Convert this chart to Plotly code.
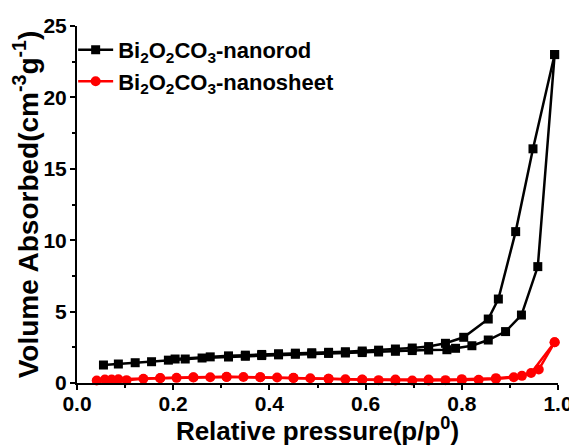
import plotly.graph_objects as go

# Bi2O2CO3-nanorod (black squares)
rod_ads_x = [0.055, 0.086, 0.121, 0.155, 0.19, 0.225, 0.26, 0.315, 0.35, 0.384, 0.419, 0.454,
             0.488, 0.523, 0.558, 0.593, 0.627, 0.662, 0.697, 0.731, 0.769, 0.787, 0.821, 0.855,
             0.891, 0.924, 0.958, 0.993]
rod_ads_y = [1.26, 1.33, 1.42, 1.49, 1.6, 1.68, 1.75, 1.82, 1.87, 1.92, 1.97, 2.01,
             2.04, 2.07, 2.1, 2.13, 2.17, 2.22, 2.27, 2.31, 2.33, 2.43, 2.61, 3.01,
             3.6, 4.76, 8.15, 23.0]
rod_des_x = [0.993, 0.948, 0.912, 0.876, 0.855, 0.804, 0.766, 0.731, 0.697, 0.662, 0.627,
             0.593, 0.558, 0.523, 0.488, 0.454, 0.419, 0.384, 0.35, 0.315, 0.277, 0.204]
rod_des_y = [23.0, 16.4, 10.6, 5.88, 4.48, 3.2, 2.78, 2.55, 2.45, 2.38, 2.3,
             2.24, 2.19, 2.15, 2.12, 2.09, 2.05, 2.0, 1.95, 1.9, 1.83, 1.68]

# Bi2O2CO3-nanosheet (red circles)
sheet_ads_x = [0.041, 0.072, 0.103, 0.138, 0.173, 0.207, 0.242, 0.277, 0.311, 0.346, 0.381,
               0.416, 0.45, 0.485, 0.523, 0.558, 0.593, 0.627, 0.662, 0.697, 0.731, 0.766,
               0.8, 0.835, 0.871, 0.908, 0.944, 0.993]
sheet_ads_y = [0.18, 0.25, 0.2, 0.3, 0.33, 0.36, 0.38, 0.4, 0.42, 0.42, 0.4,
               0.38, 0.35, 0.33, 0.3, 0.26, 0.22, 0.2, 0.18, 0.17, 0.18, 0.2,
               0.2, 0.22, 0.28, 0.4, 0.7, 2.85]
sheet_des_x = [0.993, 0.96, 0.925, 0.871, 0.8, 0.731, 0.662, 0.593, 0.523, 0.45, 0.381,
               0.311, 0.242, 0.173, 0.086, 0.058]
sheet_des_y = [2.85, 0.95, 0.5, 0.34, 0.27, 0.25, 0.24, 0.25, 0.3, 0.36, 0.41,
               0.43, 0.4, 0.35, 0.26, 0.24]

x_ticks = [0.0, 0.2, 0.4, 0.6, 0.8, 1.0]
x_ticklabels = ["0.0", "0.2", "0.4", "0.6", "0.8", "1.0"]
y_ticks = [0, 5, 10, 15, 20, 25]

FONT = "Liberation Sans"

fig = go.Figure()
rod_name = "Bi<sub>2</sub>O<sub>2</sub>CO<sub>3</sub>-nanorod"
sheet_name = "Bi<sub>2</sub>O<sub>2</sub>CO<sub>3</sub>-nanosheet"

rod_line = dict(color="black", width=2.5)
rod_marker = dict(symbol="square", size=9, color="black")
sheet_line = dict(color="red", width=2.5)
sheet_marker = dict(symbol="circle", size=10, color="red")

fig.add_trace(go.Scatter(x=rod_ads_x, y=rod_ads_y, mode="lines+markers", name=rod_name,
                         legendgroup="rod", showlegend=True, line=rod_line, marker=rod_marker,
                         cliponaxis=False))
fig.add_trace(go.Scatter(x=rod_des_x, y=rod_des_y, mode="lines+markers", name=rod_name,
                         legendgroup="rod", showlegend=False, line=rod_line, marker=rod_marker,
                         cliponaxis=False))
fig.add_trace(go.Scatter(x=sheet_ads_x, y=sheet_ads_y, mode="lines+markers", name=sheet_name,
                         legendgroup="sheet", showlegend=True, line=sheet_line, marker=sheet_marker,
                         cliponaxis=False))
fig.add_trace(go.Scatter(x=sheet_des_x, y=sheet_des_y, mode="lines+markers", name=sheet_name,
                         legendgroup="sheet", showlegend=False, line=sheet_line, marker=sheet_marker,
                         cliponaxis=False))

tickfont = dict(family=FONT, size=21, color="black", weight="bold")
fig.update_layout(
    width=569, height=438,
    margin=dict(l=69, r=19, t=18, b=63, autoexpand=False),
    paper_bgcolor="white", plot_bgcolor="white",
    font=dict(family=FONT, color="black"),
    showlegend=True,
    legend=dict(x=-0.008, y=0.992, xanchor="left", yanchor="top",
                font=dict(family=FONT, size=22, color="black", weight="bold"),
                bgcolor="rgba(0,0,0,0)", itemwidth=35, tracegroupgap=0),
    xaxis=dict(range=[0, 1], tickvals=x_ticks, ticktext=x_ticklabels, automargin=False,
               ticks="outside", ticklen=5, tickwidth=1.5, tickcolor="black",
               minor=dict(dtick=0.1, ticks="outside", ticklen=3, tickcolor="black", tickwidth=1.5),
               showline=True, linecolor="black", linewidth=2, showgrid=False, zeroline=False,
               tickfont=tickfont, ticklabelstandoff=-4,
               title=dict(text="Relative pressure(p/p<sup>0</sup>)", standoff=3,
                          font=dict(family=FONT, size=26, color="black", weight="bold"))),
    yaxis=dict(range=[0, 25], tickvals=y_ticks, automargin=False,
               ticks="outside", ticklen=5, tickwidth=1.5, tickcolor="black",
               minor=dict(dtick=2.5, ticks="outside", ticklen=3, tickcolor="black", tickwidth=1.5),
               showline=True, linecolor="black", linewidth=2, showgrid=False, zeroline=False,
               tickfont=tickfont, ticklabelstandoff=-1,
               title=dict(text="Volume Absorbed(cm<sup>-3</sup>g<sup>-1</sup>)", standoff=0,
                          font=dict(family=FONT, size=28, color="black", weight="bold"))),
    xaxis2=dict(range=[0, 1], overlaying="x", side="top", tickvals=x_ticks, showticklabels=False,
                automargin=False,
                ticks="inside", ticklen=6, tickwidth=1.5, tickcolor="black",
                minor=dict(dtick=0.1, ticks="inside", ticklen=3, tickcolor="black", tickwidth=1.5),
                showline=True, linecolor="black", linewidth=2, showgrid=False, zeroline=False),
    yaxis2=dict(range=[0, 25], overlaying="y", side="right", tickvals=y_ticks, showticklabels=False,
                automargin=False,
                ticks="inside", ticklen=6, tickwidth=1.5, tickcolor="black",
                minor=dict(dtick=2.5, ticks="inside", ticklen=3, tickcolor="black", tickwidth=1.5),
                showline=True, linecolor="black", linewidth=2, showgrid=False, zeroline=False),
)

fig.write_html("out.html")
